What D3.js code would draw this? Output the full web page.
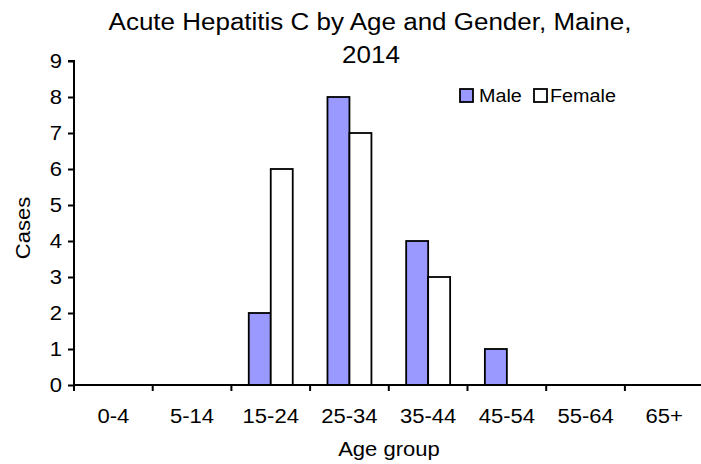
<!DOCTYPE html>
<html>
<head>
<meta charset="utf-8">
<script src="https://cdn.jsdelivr.net/npm/d3@7/dist/d3.min.js"></script>
<style>
  html, body { margin: 0; padding: 0; background: #fff; }
  svg { display: block; font-family: "Liberation Sans", Arial, sans-serif; }
</style>
</head>
<body>
<svg id="chart" width="701" height="464"></svg>
<script>
// Age groups and case counts by gender
const ageGroups = ["0-4", "5-14", "15-24", "25-34", "35-44", "45-54", "55-64", "65+"];
const seriesNames = ["Male", "Female"];
const maleCases = [0, 0, 2, 8, 4, 1, 0, 0];
const femaleCases = [0, 0, 6, 7, 3, 0, 0, 0];
const yTicks = [0, 1, 2, 3, 4, 5, 6, 7, 8, 9];

const titleLines = ["Acute Hepatitis C by Age and Gender, Maine,", "2014"];
const xTitle = "Age group";
const yTitle = "Cases";

const colors = { Male: "#9999ff", Female: "#ffffff" };
const sx = 1.13; // horizontal text stretch

const svg = d3.select("#chart");

const plot = { left: 74, top: 61, bottom: 385, step: 78.7 };
plot.right = plot.left + plot.step * ageGroups.length;

const x0 = d3.scaleBand().domain(ageGroups).range([plot.left, plot.right]).padding(0);
const x1 = d3.scaleBand().domain(seriesNames).range([0, x0.bandwidth()])
  .paddingInner(0).paddingOuter(0.79);
const y = d3.scaleLinear().domain([0, 9]).range([plot.bottom, plot.top]);

const rows = ageGroups.map((g, i) => ({ group: g, Male: maleCases[i], Female: femaleCases[i] }));

function stretchedText(sel, x, yPos, size, anchor, str) {
  return sel.append("text")
    .attr("transform", `translate(${x},${yPos}) scale(${sx},1)`)
    .attr("text-anchor", anchor)
    .attr("font-size", size)
    .attr("fill", "#000")
    .text(str);
}

// Title
stretchedText(svg, 370, 30, 23, "middle", titleLines[0]);
stretchedText(svg, 371, 63, 23, "middle", titleLines[1]);

// Bars
const groups = svg.append("g").selectAll("g")
  .data(rows).join("g")
  .attr("transform", d => `translate(${x0(d.group)},0)`);

groups.selectAll("rect")
  .data(d => seriesNames.map(s => ({ key: s, value: d[s] })).filter(v => v.value > 0))
  .join("rect")
  .attr("x", d => x1(d.key))
  .attr("y", d => y(d.value))
  .attr("width", x1.bandwidth())
  .attr("height", d => y(0) - y(d.value))
  .attr("fill", d => colors[d.key])
  .attr("stroke", "#000")
  .attr("stroke-width", 1.8);

// Y axis
const yAxis = d3.axisLeft(y).tickValues(yTicks).tickSize(6).tickPadding(6).tickFormat(d3.format("d"));
const gy = svg.append("g").attr("transform", `translate(${plot.left},0)`).call(yAxis);
gy.select(".domain").attr("stroke", "#000").attr("stroke-width", 2).attr("d", `M-6,${plot.top}H0V${plot.bottom}`);
gy.selectAll(".tick line").attr("stroke", "#000").attr("stroke-width", 2);
gy.selectAll(".tick text").remove();
yTicks.forEach(v => stretchedText(svg, 62, y(v) + 7, 19.5, "end", String(v)));

// X axis
const gx = svg.append("g").attr("transform", `translate(0,${plot.bottom})`);
gx.append("line").attr("x1", plot.left).attr("x2", plot.right).attr("y1", 0).attr("y2", 0)
  .attr("stroke", "#000").attr("stroke-width", 2);
const boundaries = ageGroups.map(g => x0(g)).concat([plot.right]);
gx.selectAll("line.tk").data(boundaries).join("line").attr("class", "tk")
  .attr("x1", d => d).attr("x2", d => d).attr("y1", 0).attr("y2", 6)
  .attr("stroke", "#000").attr("stroke-width", 2);
ageGroups.forEach(g => stretchedText(svg, x0(g) + x0.bandwidth() / 2, 423, 19.5, "middle", g));

// Axis titles
stretchedText(svg, 389, 456, 19.5, "middle", xTitle);
svg.append("text")
  .attr("transform", `translate(30,228) rotate(-90) scale(${sx},1)`)
  .attr("text-anchor", "middle").attr("font-size", 19.5).attr("fill", "#000")
  .text(yTitle);

// Legend
const legend = svg.append("g");
const legendItems = [
  { key: "Male", sx: 460, tx: 479 },
  { key: "Female", sx: 534, tx: 550 }
];
legendItems.forEach(it => {
  legend.append("rect").attr("x", it.sx).attr("y", 89).attr("width", 13).attr("height", 13)
    .attr("fill", colors[it.key]).attr("stroke", "#000").attr("stroke-width", 1.8);
  stretchedText(legend, it.tx, 102, 17.5, "start", it.key);
});
</script>
</body>
</html>
